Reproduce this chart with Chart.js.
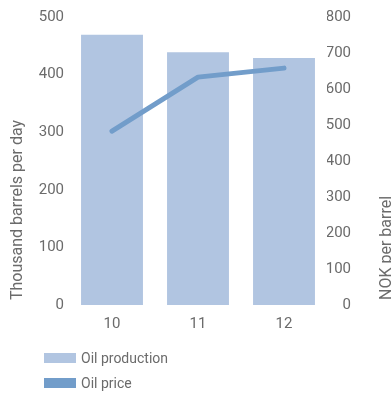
<!DOCTYPE html>
<html>
<head>
<meta charset="utf-8">
<script src="https://cdn.jsdelivr.net/npm/chart.js@4/dist/chart.umd.min.js"></script>
<style>
  html, body { margin: 0; padding: 0; background: #fff; }
  #wrap { position: relative; width: 391px; height: 393px; }
  #legend { position: absolute; left: 44px; top: 345px; font: 14px Roboto, sans-serif; color: #6b6b6b; }
  #legend .row { display: flex; align-items: center; height: 25px; }
  #legend .sw { width: 32px; height: 10px; margin-right: 5px; }
</style>
</head>
<body>
<div id="wrap">
  <canvas id="chart"></canvas>
  <div id="legend"></div>
</div>
<script>
// data
const years = ['10', '11', '12'];
const oilProduction = [469, 439, 429];   // thousand barrels per day (left axis)
const oilPrice = [483, 633, 658];        // NOK per barrel (right axis)
const leftTicks = [0, 100, 200, 300, 400, 500];
const rightTicks = [0, 100, 200, 300, 400, 500, 600, 700, 800];

const GREY = '#6b6b6b';
const BAR = '#b1c5e1';
const LINE = '#729dca';
const FONT = { family: 'Roboto, sans-serif', size: 15 };

/* rotated axis titles, reading bottom to top */
const axisTitles = {
  id: 'axisTitles',
  afterDraw(chart) {
    const c = chart.ctx;
    c.save();
    c.fillStyle = GREY;
    c.font = '16px Roboto, sans-serif';
    c.textAlign = 'left';
    c.textBaseline = 'alphabetic';
    [[22, 'Thousand barrels per day'], [391, 'NOK per barrel']].forEach(([x, t]) => {
      c.save();
      c.translate(x, 300);
      c.rotate(-Math.PI / 2);
      c.fillText(t, 0, 0);
      c.restore();
    });
    c.restore();
  }
};

new Chart(document.getElementById('chart'), {
  data: {
    labels: years,
    datasets: [
      { type: 'line', label: 'Oil price', data: oilPrice, yAxisID: 'y1', order: 0,
        borderColor: LINE, backgroundColor: LINE, borderWidth: 5, borderCapStyle: 'round',
        borderJoinStyle: 'round', pointRadius: 0, tension: 0 },
      { type: 'bar', label: 'Oil production', data: oilProduction, yAxisID: 'y', order: 1,
        backgroundColor: BAR, barPercentage: 0.72, categoryPercentage: 1 }
    ]
  },
  options: {
    responsive: true, maintainAspectRatio: false, animation: false,
    layout: { padding: { top: 17, left: 0, right: 40, bottom: 0 } },
    plugins: { legend: { display: false }, tooltip: { enabled: false } },
    scales: {
      x: {
        grid: { display: false, drawTicks: false }, border: { display: false },
        ticks: { color: GREY, font: FONT, padding: 10 },
        afterFit: s => { s.height = 88; }
      },
      y: {
        position: 'left', min: 0, max: 500,
        grid: { display: false, drawTicks: false }, border: { display: false },
        afterBuildTicks: s => { s.ticks = leftTicks.map(v => ({ value: v })); },
        ticks: { color: GREY, font: FONT, padding: 5 },
        afterFit: s => { s.width = 69; }
      },
      y1: {
        position: 'right', min: 0, max: 800,
        grid: { display: false, drawTicks: false }, border: { display: false },
        afterBuildTicks: s => { s.ticks = rightTicks.map(v => ({ value: v })); },
        ticks: { color: GREY, font: FONT, padding: 0, crossAlign: 'far' },
        afterFit: s => { s.width = 24; }
      }
    }
  },
  plugins: [axisTitles]
});

// legend: bars first, then line
document.getElementById('legend').innerHTML = [
  ['Oil production', BAR], ['Oil price', LINE]
].map(([t, col]) => `<div class="row"><span class="sw" style="background:${col}"></span>${t}</div>`).join('');
</script>
</body>
</html>
